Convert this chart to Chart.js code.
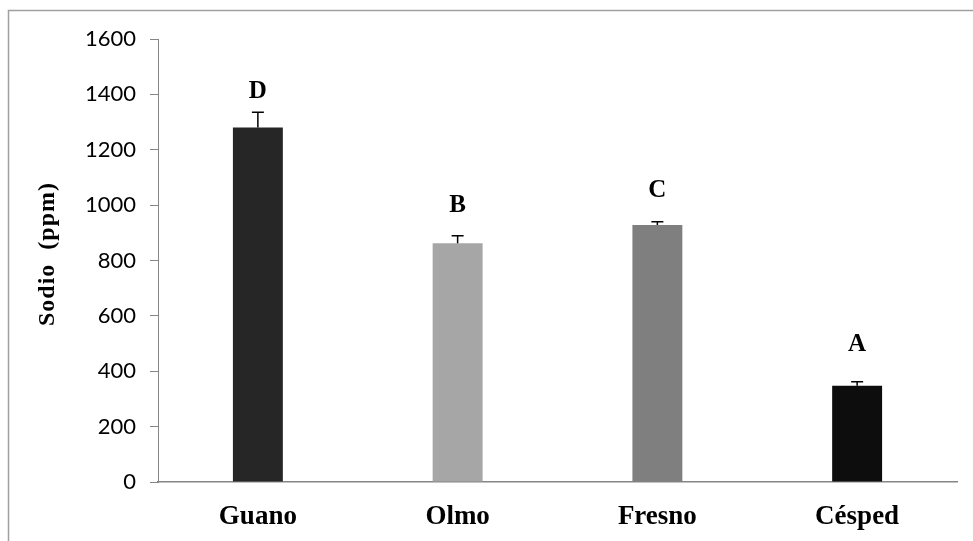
<!DOCTYPE html>
<html>
<head>
<meta charset="utf-8">
<script src="https://cdn.jsdelivr.net/npm/chart.js@4.4.1/dist/chart.umd.min.js"></script>
<style>
  html, body { margin: 0; padding: 0; background: #ffffff; }
  #wrap { width: 973px; height: 541px; position: relative; }
</style>
</head>
<body>
<div id="wrap"><canvas id="c" width="973" height="541"></canvas></div>
<script>
// Sodium content per substrate
const categories = ['Guano', 'Olmo', 'Fresno', 'Césped'];
const sodio = [1280, 862, 928, 348];
const errores = [55, 27, 12, 14];
const letras = ['D', 'B', 'C', 'A'];
const colores = ['#262626', '#a6a6a6', '#7f7f7f', '#0d0d0d'];
const yTicks = [0, 200, 400, 600, 800, 1000, 1200, 1400, 1600];

const frame = {
  id: 'frame',
  beforeDraw(chart) {
    const ctx = chart.ctx;
    ctx.save();
    ctx.strokeStyle = '#a0a0a0';
    ctx.lineWidth = 1.5;
    ctx.beginPath();
    ctx.moveTo(8.5, 541);
    ctx.lineTo(8.5, 10.5);
    ctx.lineTo(973, 10.5);
    ctx.stroke();
    ctx.restore();
  }
};

const errorBars = {
  id: 'errorBars',
  afterDatasetsDraw(chart, args, opts) {
    const ctx = chart.ctx;
    const y = chart.scales.y;
    const meta = chart.getDatasetMeta(0);
    ctx.save();
    meta.data.forEach((bar, i) => {
      const top = y.getPixelForValue(sodio[i] + errores[i]);
      const base = y.getPixelForValue(sodio[i]);
      ctx.strokeStyle = '#000';
      ctx.lineWidth = 1.5;
      ctx.beginPath();
      ctx.moveTo(bar.x, base);
      ctx.lineTo(bar.x, top);
      ctx.moveTo(bar.x - 6, top);
      ctx.lineTo(bar.x + 6, top);
      ctx.stroke();
      ctx.fillStyle = '#000';
      ctx.font = 'bold 25px "Liberation Serif", "Times New Roman", serif';
      ctx.textAlign = 'center';
      ctx.textBaseline = 'middle';
      ctx.fillText(letras[i], bar.x, top - opts.offsets[i]);
    });
    ctx.restore();
  }
};

const yTitle = {
  id: 'yTitle',
  afterDraw(chart) {
    const ctx = chart.ctx;
    ctx.save();
    ctx.translate(48, 254);
    ctx.rotate(-Math.PI / 2);
    ctx.fillStyle = '#000';
    ctx.font = 'bold 24px "Liberation Serif", "Times New Roman", serif';
    ctx.letterSpacing = '1px';
    ctx.textAlign = 'center';
    ctx.textBaseline = 'middle';
    ctx.fillText('Sodio  (ppm)', 0, 0);
    ctx.restore();
  }
};

new Chart(document.getElementById('c'), {
  type: 'bar',
  data: {
    labels: categories,
    datasets: [{
      data: sodio,
      backgroundColor: colores,
      borderWidth: 0,
      barPercentage: 1,
      categoryPercentage: 0.25
    }]
  },
  plugins: [frame, errorBars, yTitle],
  options: {
    responsive: false,
    animation: false,
    events: [],
    layout: { padding: { left: 0, right: 16, top: 39, bottom: 0 } },
    plugins: {
      legend: { display: false },
      tooltip: { enabled: false },
      errorBars: { offsets: [21, 30, 31, 37] }
    },
    scales: {
      y: {
        min: 0,
        max: 1600,
        afterBuildTicks(scale) { scale.ticks = yTicks.map(v => ({ value: v })); },
        afterFit(scale) { scale.width = 158; },
        border: { color: '#868686', width: 1 },
        grid: { drawOnChartArea: false, drawTicks: true, tickLength: 8, color: '#868686' },
        ticks: {
          color: '#000',
          padding: 14,
          callback: v => String(v),
          font: { family: 'Lato, "Open Sans", sans-serif', size: 22 }
        }
      },
      x: {
        afterFit(scale) { scale.height = 59; },
        border: { color: '#868686', width: 1.5 },
        grid: { display: false, drawTicks: false },
        ticks: {
          color: '#000',
          padding: 19,
          font: { family: '"Liberation Serif", "Times New Roman", serif', size: 27, weight: 'bold' }
        }
      }
    }
  }
});
</script>
</body>
</html>
